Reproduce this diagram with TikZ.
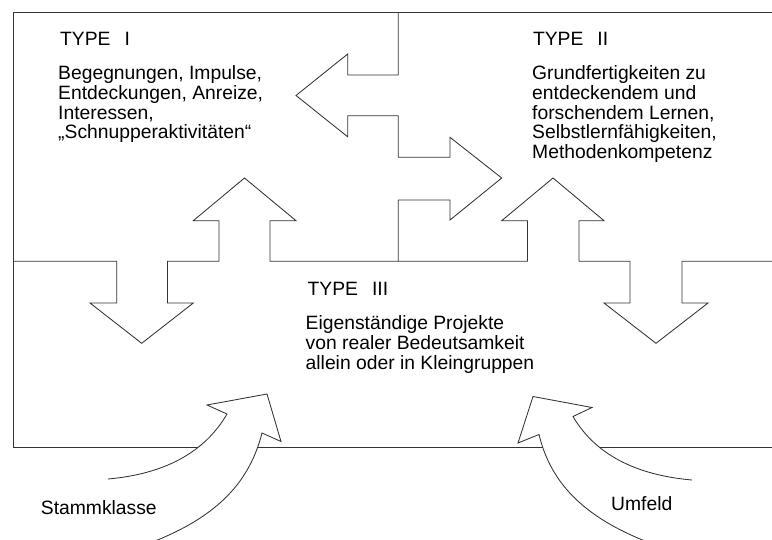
\documentclass[tikz,border=0pt]{standalone}
\usepackage{fontspec}
\setmainfont{Liberation Sans}
\tikzset{
  ln/.style={draw=black!80, line width=0.85pt, line join=miter},
  curvearrow/.style={ln, fill=white},
  txt/.style={anchor=base west, inner sep=0pt, font=\fontsize{19.3}{19.9}\selectfont},
}
\newcommand{\blk}[1]{\parbox[t]{9cm}{\raggedright #1}}
\begin{document}
\begin{tikzpicture}[x=1pt,y=-1pt]
\useasboundingbox (0,0) rectangle (772,540);
% outer frame
\draw[ln] (772,12.3) -- (13.3,12.3) -- (13.3,447.5) -- (772,447.5);
% vertical boundary between TYPE I and TYPE II
\draw[ln] (398.3,12.3) -- (398.3,75) -- (347.7,75) -- (347.7,54) -- (296,95.5)
  -- (347.7,136.8) -- (347.7,115.8) -- (398.3,115.8) -- (398.3,157.3)
  -- (450,157.3) -- (450,137.3) -- (501.7,178) -- (450,220) -- (450,200)
  -- (398.3,200) -- (398.3,261.3);
% horizontal boundary with arrows
\draw[ln] (13.3,261.3) -- (116.7,261.3) -- (116.7,303) -- (90,303) -- (141.7,343.3)
  -- (193.3,303) -- (167.5,303) -- (167.5,261.3) -- (219,261.3) -- (219,220.7)
  -- (193.3,220.7) -- (244.5,178) -- (296,220.7) -- (270,220.7) -- (270,261.3)
  -- (527.5,261.3) -- (527.5,220.7) -- (501.7,220.7) -- (553,178) -- (604,220.7)
  -- (579,220.7) -- (579,261.3) -- (630,261.3) -- (630,303) -- (604,303)
  -- (656,343.3) -- (708,303) -- (682,303) -- (682,261.3) -- (772,261.3);
% curved arrows
\filldraw[curvearrow] (108,479) .. controls (165,474) and (205,452) .. (227,414)
  -- (207,405) -- (267,394) -- (281,441.5) -- (262,433)
  .. controls (250,480) and (220,515) .. (155,541);
\filldraw[curvearrow] (692,480) .. controls (635,475) and (595,454) .. (573,416.5)
  -- (592,407.5) -- (533,396.5) -- (518,443) -- (539,434.5)
  .. controls (550,480) and (580,515) .. (645,541);
% texts
\node[txt] (t1) at (60,46) {TYPE\hspace{14pt}I};
\node[txt] (b1) at (58,79.3) {\blk{Begegnungen, Impulse,\\Entdeckungen, Anreize,\\Interessen,\\„Schnupperaktivitäten“}};
\node[txt] (t2) at (532.8,46) {TYPE\hspace{14pt}II};
\node[txt] (b2) at (532,79.3) {\blk{Grundfertigkeiten zu\\entdeckendem und\\forschendem Lernen,\\Selbstlernfähigkeiten,\\Methodenkompetenz}};
\node[txt] (t3) at (307.5,296) {TYPE\hspace{14pt}III};
\node[txt] (b3) at (305.5,329.5) {\blk{Eigenständige Projekte\\von realer Bedeutsamkeit\\allein oder in Kleingruppen}};
\node[txt] (s) at (40.7,514.5) {Stammklasse};
\node[txt] (u) at (611,510.5) {Umfeld};
\end{tikzpicture}
\end{document}
